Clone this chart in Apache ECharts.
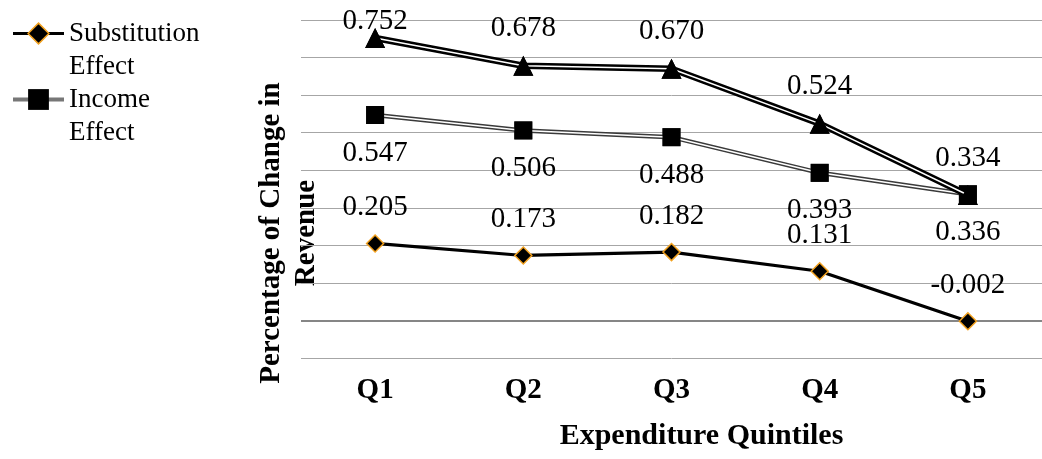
<!DOCTYPE html>
<html><head><meta charset="utf-8">
<script src="https://cdn.jsdelivr.net/npm/echarts@6/dist/echarts.min.js"></script>
<style>html,body{margin:0;padding:0;background:#fff}#c{width:1042px;height:459px}</style>
</head><body><div id="c"></div>
<script>
const categories = ['Q1', 'Q2', 'Q3', 'Q4', 'Q5'];
const substitutionEffect = [0.205, 0.173, 0.182, 0.131, -0.002];
const incomeEffect = [0.547, 0.506, 0.488, 0.393, 0.336];
const totalEffect = [0.752, 0.678, 0.670, 0.524, 0.334];
const legendNames = ['Substitution Effect', 'Income Effect'];
const seriesNames = ['Substitution Effect', 'Income Effect', 'Total Effect'];
const xAxisTitle = 'Expenditure Quintiles';
const yAxisTitle = 'Percentage of Change in\nRevenue';

const FONT = "'Liberation Serif', 'Times New Roman', serif";

function labelCfg() {
  return {
    show: true, position: 'inside',
    color: '#000', fontFamily: FONT, fontSize: 29,
    formatter: p => p.value.toFixed(3)
  };
}
function layoutFn(off) {
  return function (p) {
    const cx = p.rect.x + p.rect.width / 2;
    const cy = p.rect.y + p.rect.height / 2 + off;
    return { x: cx, y: Math.max(cy, 21), align: 'center', verticalAlign: 'middle' };
  };
}

function doubleLine(name, data, color, outerW, innerW, symbol, size, off, z) {
  return [
    { name, type: 'line', data, z, symbol, symbolSize: size,
      itemStyle: { color }, lineStyle: { color, width: outerW },
      emphasis: { disabled: true }, silent: true },
    { name: name + ' inner', type: 'line', data, z: z + 1, symbol: 'none',
      lineStyle: { color: '#fff', width: innerW }, silent: true,
      emphasis: { disabled: true } },
    { name, type: 'line', data, z: z + 2, symbol, symbolSize: size,
      itemStyle: { color: '#000' }, lineStyle: { width: 0, opacity: 0 },
      emphasis: { disabled: true }, silent: true,
      label: labelCfg(), labelLayout: layoutFn(off) }
  ];
}

const chart = echarts.init(document.getElementById('c'), null, { renderer: 'canvas' });
chart.setOption({
  animation: false,
  backgroundColor: '#fff',
  grid: { left: 301, right: -12, top: 20, bottom: 101, containLabel: false },
  legend: {
    data: [
      { name: legendNames[0], lineStyle: { width: 3, color: '#000' },
        itemStyle: { color: '#000', borderColor: '#f2a11f', borderWidth: 1.5 } },
      { name: legendNames[1], lineStyle: { width: 4, color: '#777' },
        itemStyle: { color: '#000' } }
    ],
    orient: 'vertical', left: 11, top: -16, padding: 0,
    itemWidth: 51, itemHeight: 26, itemGap: -33,
    formatter: n => ' \n' + n.replace(' ', '\n'),
    textStyle: { fontFamily: FONT, fontSize: 27, color: '#000', lineHeight: 33 }
  },
  xAxis: {
    type: 'category', data: categories,
    axisLine: { show: false, onZero: false }, axisTick: { show: false },
    axisLabel: { fontFamily: FONT, fontSize: 29, fontWeight: 'bold', color: '#000', margin: 18 },
    name: xAxisTitle, nameLocation: 'middle', nameGap: 63,
    nameTextStyle: { fontFamily: FONT, fontSize: 30, fontWeight: 'bold', color: '#000', padding: [0, 0, 0, 60] }
  },
  yAxis: {
    type: 'value', min: -0.1, max: 0.8, interval: 0.1,
    axisLabel: { show: false }, axisLine: { show: false }, axisTick: { show: false },
    splitLine: { lineStyle: { color: '#a6a6a6', width: 1 } }
  },
  graphic: [{
    type: 'text', x: 289, y: 233, rotation: Math.PI / 2,
    style: { text: yAxisTitle, fontFamily: FONT, fontSize: 29, fontWeight: 'bold',
      fill: '#000', align: 'center', verticalAlign: 'middle', lineHeight: 35 }
  }],
  series: [
    ...doubleLine(seriesNames[1], incomeEffect, '#3a3a3a', 4.5, 1.5, 'rect', 18, 38, 2),
    ...doubleLine(seriesNames[2], totalEffect, '#000', 6.5, 1.5, 'triangle', 20, -37, 6),
    {
      name: seriesNames[0], type: 'line', data: substitutionEffect, z: 10,
      symbol: 'diamond', symbolSize: 17,
      itemStyle: { color: '#000', borderColor: '#f2a11f', borderWidth: 1.5 },
      lineStyle: { color: '#000', width: 3.2 },
      emphasis: { disabled: true }, silent: true,
      label: labelCfg(), labelLayout: layoutFn(-36),
      markLine: {
        silent: true, symbol: 'none', label: { show: false },
        lineStyle: { color: '#868686', width: 2, type: 'solid' },
        data: [{ yAxis: 0 }]
      }
    }
  ]
});
</script></body></html>
